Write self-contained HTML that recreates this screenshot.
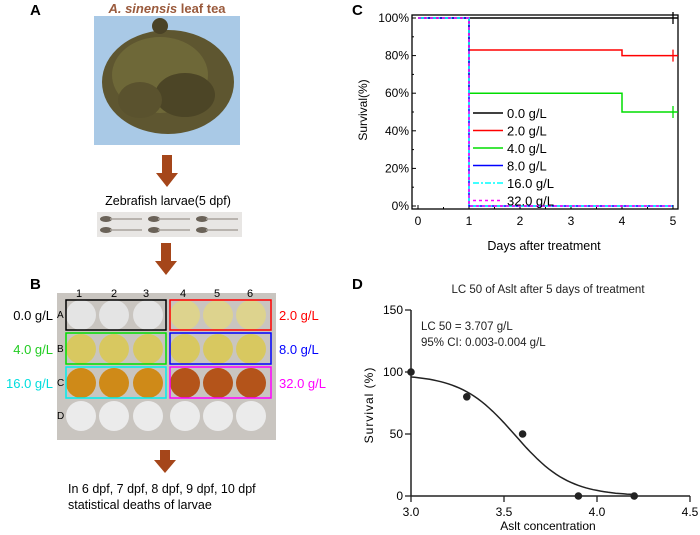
<!DOCTYPE html>
<html><head><meta charset="utf-8"><style>
body{margin:0;background:#fff;}
svg{display:block;font-family:"Liberation Sans",Arial,sans-serif;}
</style></head><body>
<svg width="700" height="535" viewBox="0 0 700 535">
<!-- Panel A -->
<text x="30" y="15" font-size="15" font-weight="bold">A</text>
<text x="167" y="13" font-size="13" font-weight="bold" fill="#9a5a3c" text-anchor="middle"><tspan font-style="italic">A. sinensis</tspan> leaf tea</text>
<g>
<rect x="94" y="16" width="146" height="129" fill="#a9c9e6"/>
<ellipse cx="168" cy="82" rx="66" ry="52" fill="#5e5630"/>
<ellipse cx="160" cy="75" rx="48" ry="38" fill="#6e6838"/>
<ellipse cx="185" cy="95" rx="30" ry="22" fill="#4c4526"/>
<ellipse cx="140" cy="100" rx="22" ry="18" fill="#5a522e"/>
<ellipse cx="160" cy="26" rx="8" ry="8" fill="#4a4226"/>
</g>
<path d="M162 155 h10 v18 h6 l-11 14 l-11 -14 h6z" fill="#a5461a"/>
<text x="168" y="205" font-size="12.5" text-anchor="middle">Zebrafish larvae(5 dpf)</text>
<g>
<rect x="97" y="212" width="145" height="25" fill="#e8e6e4"/>
<g fill="#6a6258"><ellipse cx="106" cy="219" rx="6" ry="3"/><ellipse cx="154" cy="219" rx="6" ry="3"/><ellipse cx="202" cy="219" rx="6" ry="3"/><ellipse cx="106" cy="230" rx="6" ry="3"/><ellipse cx="154" cy="230" rx="6" ry="3"/><ellipse cx="202" cy="230" rx="6" ry="3"/></g>
<g stroke="#a8a29c" stroke-width="1.5"><line x1="110" y1="219" x2="142" y2="219"/><line x1="158" y1="219" x2="190" y2="219"/><line x1="206" y1="219" x2="238" y2="219"/><line x1="110" y1="230" x2="142" y2="230"/><line x1="158" y1="230" x2="190" y2="230"/><line x1="206" y1="230" x2="238" y2="230"/></g>
</g>
<path d="M161 243 h10 v18 h6 l-11 14 l-11 -14 h6z" fill="#a5461a"/>
<!-- Panel B -->
<text x="30" y="289" font-size="15" font-weight="bold">B</text>
<rect x="57" y="293" width="219" height="147" fill="#c9c5c0"/>
<g font-size="11" text-anchor="middle">
<text x="79" y="297">1</text><text x="114" y="297">2</text><text x="146" y="297">3</text><text x="183" y="297">4</text><text x="217" y="297">5</text><text x="250" y="297">6</text></g>
<g font-size="10"><text x="57" y="318">A</text><text x="57" y="352">B</text><text x="57" y="386">C</text><text x="57" y="419">D</text></g>
<g>
<g fill="#e4e4e4"><circle cx="81" cy="315" r="15"/><circle cx="114" cy="315" r="15"/><circle cx="148" cy="315" r="15"/></g>
<g fill="#ddd38e"><circle cx="185" cy="315" r="15"/><circle cx="218" cy="315" r="15"/><circle cx="251" cy="315" r="15"/></g>
<g fill="#d8c860"><circle cx="81" cy="349" r="15"/><circle cx="114" cy="349" r="15"/><circle cx="148" cy="349" r="15"/><circle cx="185" cy="349" r="15"/><circle cx="218" cy="349" r="15"/><circle cx="251" cy="349" r="15"/></g>
<g fill="#cf8a18"><circle cx="81" cy="383" r="15"/><circle cx="114" cy="383" r="15"/><circle cx="148" cy="383" r="15"/></g>
<g fill="#b4541a"><circle cx="185" cy="383" r="15"/><circle cx="218" cy="383" r="15"/><circle cx="251" cy="383" r="15"/></g>
<g fill="#ebebeb"><circle cx="81" cy="416" r="15"/><circle cx="114" cy="416" r="15"/><circle cx="148" cy="416" r="15"/><circle cx="185" cy="416" r="15"/><circle cx="218" cy="416" r="15"/><circle cx="251" cy="416" r="15"/></g>
</g>
<g fill="none" stroke-width="1.5">
<rect x="66" y="300" width="100" height="30" stroke="#000"/>
<rect x="170" y="300" width="101" height="30" stroke="#f00"/>
<rect x="66" y="333" width="100" height="31" stroke="#0d0"/>
<rect x="170" y="333" width="101" height="31" stroke="#00f"/>
<rect x="66" y="367" width="100" height="31" stroke="#0ee"/>
<rect x="170" y="367" width="101" height="31" stroke="#f0f"/>
</g>
<g font-size="13">
<text x="53" y="320" text-anchor="end" fill="#000">0.0 g/L</text>
<text x="53" y="354" text-anchor="end" fill="#2c2">4.0 g/L</text>
<text x="53" y="388" text-anchor="end" fill="#0dd">16.0 g/L</text>
<text x="279" y="320" fill="#f00">2.0 g/L</text>
<text x="279" y="354" fill="#00f">8.0 g/L</text>
<text x="279" y="388" fill="#f0f">32.0 g/L</text>
</g>
<path d="M160 450 h10 v10 h6 l-11 13 l-11 -13 h6z" fill="#a5461a"/>
<text x="68" y="493" font-size="12.5"><tspan x="68">In 6 dpf, 7 dpf, 8 dpf, 9 dpf, 10 dpf</tspan><tspan x="68" dy="16">statistical deaths of larvae</tspan></text>
<!-- Panel C -->
<text x="352" y="15" font-size="15" font-weight="bold">C</text>
<g id="chartC"></g>
<!-- Panel D -->
<text x="352" y="289" font-size="15" font-weight="bold">D</text>
<g id="chartD"></g>
</svg>
<script>
const NS="http://www.w3.org/2000/svg";
function mk(p,t,a,txt){const e=document.createElementNS(NS,t);for(const k in a)e.setAttribute(k,a[k]);if(txt!==undefined)e.textContent=txt;p.appendChild(e);return e;}

// ---- Chart C data ----
const cDays=[0,1,2,3,4,5];
const cYTicks=[0,20,40,60,80,100];
const cSeriesNames=["0.0 g/L","2.0 g/L","4.0 g/L","8.0 g/L","16.0 g/L","32.0 g/L"];
const cSeriesColors=["#000","#f00","#0d0","#00f","#0ff","#f0f"];
const cSeriesDash=["","","","","6,2,2,2","3,3"];
const cStepDays=[0,1,4,5];
const cSurv0=[100,100,100,100];
const cSurv2=[100,83,80,80];
const cSurv4=[100,60,50,50];
const cSurv8=[100,0,0,0];
const cSurv16=[100,0,0,0];
const cSurv32=[100,0,0,0];
const cAll=[cSurv0,cSurv2,cSurv4,cSurv8,cSurv16,cSurv32];
const cCensored=[true,true,true,false,false,false];

const gC=document.getElementById("chartC");
const cx=d=>418+d*51, cy=v=>206-v*1.88;
let a=mk(gC,"rect",{x:412,y:15,width:266,height:194,fill:"none",stroke:"#000","stroke-width":1.3});


cYTicks.forEach(v=>{
  let t=mk(gC,"text",{x:409,y:cy(v)+4,"font-size":12,"text-anchor":"end"},v+"%");
  
  
  mk(gC,"line",{x1:412,x2:416,y1:cy(v),y2:cy(v),stroke:"#000"});
  if(v<100) mk(gC,"line",{x1:412,x2:414,y1:cy(v+10),y2:cy(v+10),stroke:"#000"});
});
cDays.forEach(d=>{
  let t=mk(gC,"text",{x:cx(d),y:225,"font-size":12,"text-anchor":"middle"},d);
  
  
  mk(gC,"line",{x1:cx(d),x2:cx(d),y1:209,y2:205,stroke:"#000"});
  if(d<5) mk(gC,"line",{x1:cx(d+0.5),x2:cx(d+0.5),y1:209,y2:207,stroke:"#000"});
});
let yl=mk(gC,"text",{x:0,y:0,"font-size":12,"text-anchor":"middle",transform:"translate(367,110) rotate(-90)"},"Survival(%)");


let xl=mk(gC,"text",{x:544,y:250,"font-size":12.5,"text-anchor":"middle"},"Days after treatment");


cAll.forEach((s,i)=>{
  let d="M"+cx(cStepDays[0])+" "+cy(s[0]);
  for(let k=1;k<cStepDays.length;k++){d+=" H"+cx(cStepDays[k])+" V"+cy(s[k]);}
  if(cCensored[i]) d+=" H678";
  let p=mk(gC,"path",{d:d,fill:"none",stroke:cSeriesColors[i],"stroke-width":1.5,"stroke-dasharray":cSeriesDash[i]});
  
  
  if(cCensored[i]){let l=mk(gC,"line",{x1:cx(5),x2:cx(5),y1:cy(s[s.length-1])-6,y2:cy(s[s.length-1])+6,stroke:cSeriesColors[i],"stroke-width":1.3});
    
    }
  const ly=113+i*17.5;
  let lg=mk(gC,"g",{});
  
  
  mk(lg,"line",{x1:473,x2:503,y1:ly,y2:ly,stroke:cSeriesColors[i],"stroke-width":1.5,"stroke-dasharray":cSeriesDash[i]});
  mk(lg,"text",{x:507,y:ly+5,"font-size":13},cSeriesNames[i]);
});

// ---- Chart D data ----
const dX=[3.0,3.3,3.6,3.9,4.2];
const dY=[100,80,50,0,0];
const dXTicks=[3.0,3.5,4.0,4.5];
const dYTicks=[0,50,100,150];
const dTop=[98], dMid=[3.56], dHill=[3.0];

const gD=document.getElementById("chartD");
const dx=v=>411+(v-3)*186, dy=v=>496-v*1.24;
mk(gD,"line",{x1:411,x2:411,y1:310,y2:496,stroke:"#222","stroke-width":1.5});
mk(gD,"line",{x1:411,x2:690,y1:496,y2:496,stroke:"#222","stroke-width":1.5});
dYTicks.forEach(v=>{mk(gD,"line",{x1:405,x2:411,y1:dy(v),y2:dy(v),stroke:"#222","stroke-width":1.3});
  let t=mk(gD,"text",{x:403,y:dy(v)+4,"font-size":12,"text-anchor":"end"},v);
  
  });
dXTicks.forEach(v=>{mk(gD,"line",{x1:dx(v),x2:dx(v),y1:496,y2:502,stroke:"#222","stroke-width":1.3});
  let t=mk(gD,"text",{x:dx(v),y:516,"font-size":12,"text-anchor":"middle"},v.toFixed(1));
  
  });
let dt=mk(gD,"text",{x:548,y:293,"font-size":11.5,"text-anchor":"middle",fill:"#222"},"LC 50 of Aslt after 5 days of treatment");


let a1=mk(gD,"text",{x:421,y:330,"font-size":11.5,fill:"#222"},"LC 50 = 3.707 g/L");


let a2=mk(gD,"text",{x:421,y:346,"font-size":11.5,fill:"#222"},"95% CI: 0.003-0.004 g/L");


let dyl=mk(gD,"text",{x:0,y:0,"font-size":12,"text-anchor":"middle","letter-spacing":"1",transform:"translate(373,405) rotate(-90)"},"Survival (%)");


let dxl=mk(gD,"text",{x:548,y:530,"font-size":12,"text-anchor":"middle"},"Aslt concentration");


let cd="";
for(let k=0;k<=60;k++){const x=dX[0]+k*(dX[dX.length-1]-dX[0])/60;const y=dTop[0]/(1+Math.pow(10,(x-dMid[0])*dHill[0]));cd+=(k?" L":"M")+dx(x).toFixed(1)+" "+dy(y).toFixed(1);}
let fc=mk(gD,"path",{d:cd,fill:"none",stroke:"#222","stroke-width":1.5});


dX.forEach((x,i)=>{let c=mk(gD,"circle",{cx:dx(x),cy:dy(dY[i]),r:3.8,fill:"#222"});
  
  });
</script>
</body></html>
